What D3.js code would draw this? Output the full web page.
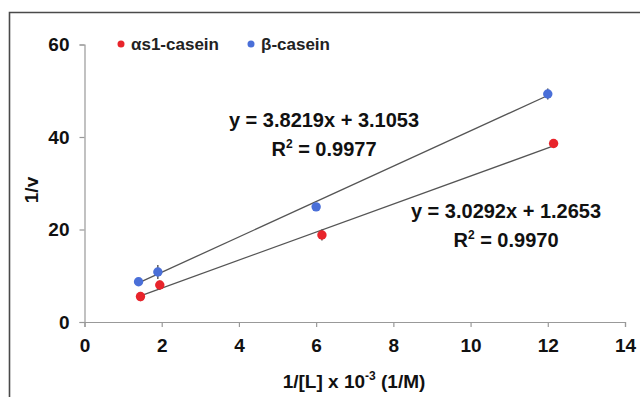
<!DOCTYPE html>
<html>
<head>
<meta charset="utf-8">
<script src="https://cdn.jsdelivr.net/npm/d3@7"></script>
<style>
  html, body { margin: 0; padding: 0; background: #fff; }
  svg { display: block; font-family: "Liberation Sans", Arial, sans-serif; }
</style>
</head>
<body>
<svg id="chart" width="640" height="397"></svg>
<script>
// Data
const alphaX = [1.45, 1.95, 6.15, 12.15];
const alphaY = [5.5, 8.0, 18.8, 38.6];
const alphaErr = [1.0, 1.0, 1.2, 0.5];
const betaX = [1.4, 1.9, 6.0, 12.0];
const betaY = [8.7, 10.8, 24.9, 49.3];
const betaErr = [0.4, 1.5, 0.5, 1.2];
const alphaFit = { slope: 3.0292, intercept: 1.2653 };
const betaFit = { slope: 3.8219, intercept: 3.1053 };
const xTicks = [0, 2, 4, 6, 8, 10, 12, 14];
const yTicks = [0, 20, 40, 60];
const seriesNames = ["\u03b1s1-casein", "\u03b2-casein"];
const seriesColors = ["#e8242b", "#4a6fd8"];

const svg = d3.select("#chart");
const x = d3.scaleLinear().domain([0, 14]).range([84.5, 625]);
const y = d3.scaleLinear().domain([0, 60]).range([322, 44.5]);

// outer frame
svg.append("path").attr("d", "M9.5,397 V12.5 H640")
  .attr("fill", "none").attr("stroke", "#4a4a4a").attr("stroke-width", 1.6);

// axes
const xAxis = svg.append("g").attr("transform", `translate(0,${y(0)})`)
  .call(d3.axisBottom(x).tickValues(xTicks).tickSize(5).tickPadding(12).tickFormat(d3.format("d")));
const yAxis = svg.append("g").attr("transform", `translate(${x(0)},0)`)
  .call(d3.axisLeft(y).tickValues(yTicks).tickSize(5).tickPadding(10).tickFormat(d3.format("d")));
[xAxis, yAxis].forEach(g => {
  g.select(".domain").attr("stroke", "#999").attr("stroke-width", 1.2);
  g.selectAll(".tick line").attr("stroke", "#999").attr("stroke-width", 1.2);
  g.selectAll(".tick text").attr("fill", "#111").attr("font-size", 19)
    .attr("font-weight", "bold").attr("font-family", "Liberation Sans, Arial, sans-serif");
});
xAxis.selectAll(".tick text").attr("dy", "0.71em");

// trend lines
function fitLine(fit, xs) {
  const x0 = d3.min(xs), x1 = d3.max(xs);
  svg.append("line")
    .attr("x1", x(x0)).attr("y1", y(fit.slope * x0 + fit.intercept))
    .attr("x2", x(x1)).attr("y2", y(fit.slope * x1 + fit.intercept))
    .attr("stroke", "#555").attr("stroke-width", 1.3);
}
fitLine(betaFit, betaX);
fitLine(alphaFit, alphaX);

// points with error bars
function series(xs, ys, errs, color) {
  const g = svg.append("g");
  xs.forEach((xv, i) => {
    g.append("line").attr("x1", x(xv)).attr("x2", x(xv))
      .attr("y1", y(ys[i] - errs[i])).attr("y2", y(ys[i] + errs[i]))
      .attr("stroke", "#333").attr("stroke-width", 1.2);
    g.append("circle").attr("cx", x(xv)).attr("cy", y(ys[i])).attr("r", 4.7)
      .attr("fill", color);
  });
}
series(betaX, betaY, betaErr, seriesColors[1]);
series(alphaX, alphaY, alphaErr, seriesColors[0]);

// legend
const legendX = [121, 251];
seriesNames.forEach((name, i) => {
  svg.append("circle").attr("cx", legendX[i]).attr("cy", 44).attr("r", 3.5).attr("fill", seriesColors[i]);
  svg.append("text").attr("x", legendX[i] + 10).attr("y", 50)
    .attr("font-size", 17).attr("font-weight", "bold").attr("fill", "#222").text(name);
});

// equations
function eqText(cx, by, eq, r2) {
  svg.append("text").attr("x", cx).attr("y", by).attr("text-anchor", "middle")
    .attr("font-size", 20).attr("font-weight", "bold").attr("fill", "#111").text(eq);
  const t = svg.append("text").attr("x", cx).attr("y", by + 29).attr("text-anchor", "middle")
    .attr("font-size", 20).attr("font-weight", "bold").attr("fill", "#111");
  t.append("tspan").text("R");
  t.append("tspan").attr("dy", -8).attr("font-size", 12).text("2");
  t.append("tspan").attr("dy", 8).text(" = " + r2);
}
eqText(324, 127, `y = ${betaFit.slope}x + ${betaFit.intercept}`, "0.9977");
eqText(506, 218, `y = ${alphaFit.slope}x + ${alphaFit.intercept}`, "0.9970");

// axis titles
const xt = svg.append("text").attr("x", 354).attr("y", 388).attr("text-anchor", "middle")
  .attr("font-size", 19).attr("font-weight", "bold").attr("fill", "#111");
xt.append("tspan").text("1/[L] x 10");
xt.append("tspan").attr("dy", -8).attr("font-size", 12).text("-3");
xt.append("tspan").attr("dy", 8).text(" (1/M)");

svg.append("text").attr("transform", "translate(38,190) rotate(-90)")
  .attr("text-anchor", "middle").attr("font-size", 19).attr("font-weight", "bold")
  .attr("fill", "#111").text("1/v");
</script>
</body>
</html>
